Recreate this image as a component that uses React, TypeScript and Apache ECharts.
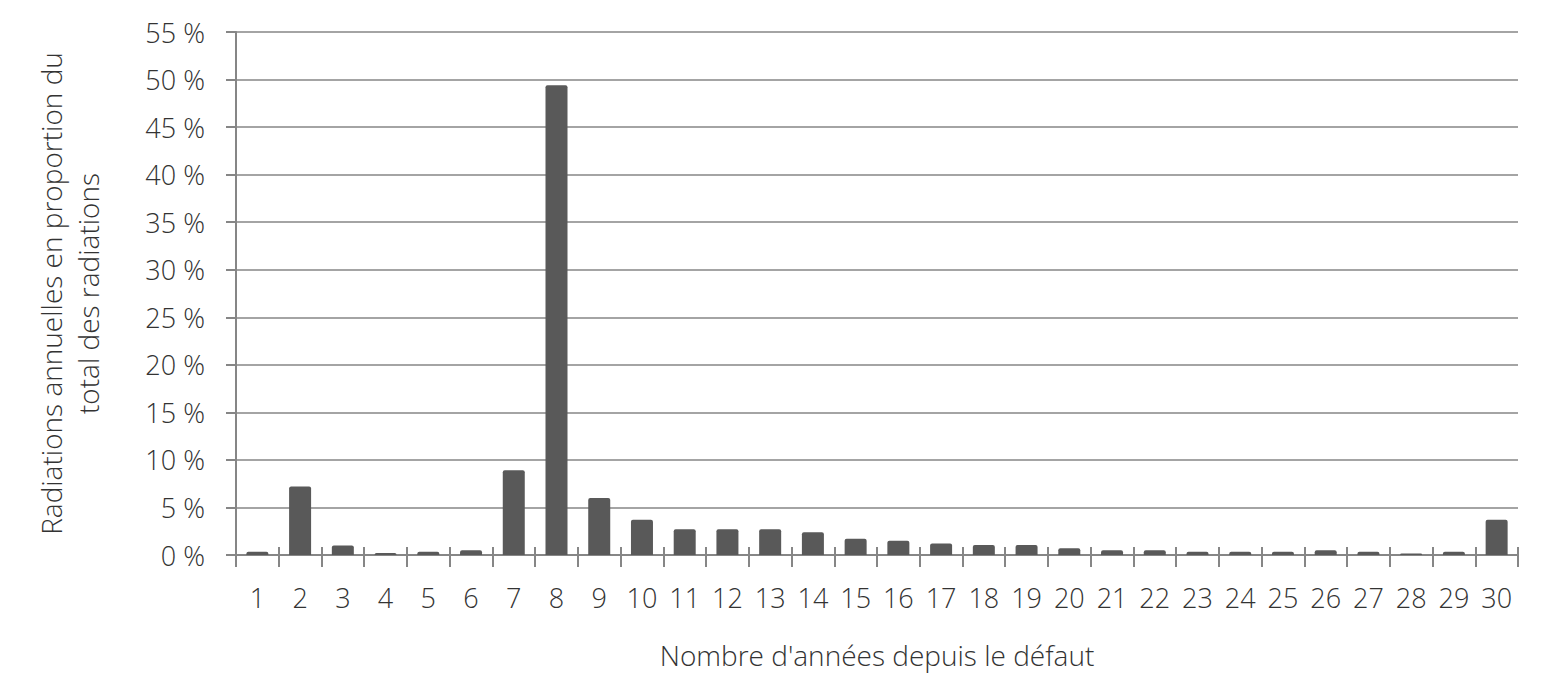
import { useEffect, useRef } from "react";
import * as echarts from "echarts";

const years = Array.from({ length: 30 }, (_, i) => String(i + 1));
const shares = [
  0.35, 7.2, 1.0, 0.2, 0.35, 0.5, 8.9, 49.4, 6.0, 3.7,
  2.7, 2.7, 2.7, 2.4, 1.7, 1.5, 1.2, 1.05, 1.05, 0.7,
  0.5, 0.5, 0.35, 0.35, 0.35, 0.5, 0.35, 0.15, 0.35, 3.7,
];
const xTitle = "Nombre d'années depuis le défaut";
const yTitle = "Radiations annuelles en proportion du\ntotal des radiations";

const font = "'Open Sans', sans-serif";
const textColor = "#333333";
const lineColor = "#868686";

export default function App() {
  const chartRef = useRef<HTMLDivElement>(null);

  useEffect(() => {
    if (!chartRef.current) return;
    document.body.style.margin = "0";

    const chart = echarts.init(chartRef.current, undefined, { renderer: "svg" });
    chart.setOption({
      animation: false,
      textStyle: { fontFamily: font },
      grid: { left: 236, right: 38, top: 32, bottom: 138 },
      xAxis: [
        {
          type: "category",
          data: years,
          name: xTitle,
          nameLocation: "middle",
          nameGap: 86,
          nameTextStyle: { fontSize: 28, color: textColor, fontWeight: 300 },
          axisLine: { lineStyle: { color: lineColor, width: 2 } },
          axisTick: { show: true, length: 12, lineStyle: { color: lineColor, width: 2 } },
          axisLabel: { fontSize: 27, color: textColor, fontWeight: 300, margin: 29 },
        },
        {
          type: "category",
          data: years,
          position: "bottom",
          axisLine: { show: false },
          axisTick: { show: true, inside: true, length: 8, lineStyle: { color: lineColor, width: 2 } },
          axisLabel: { show: false },
        },
      ],
      yAxis: {
        type: "value",
        min: 0,
        max: 55,
        interval: 5,
        name: yTitle,
        nameLocation: "middle",
        nameGap: 130,
        nameRotate: 90,
        nameTextStyle: { fontSize: 28, color: textColor, fontWeight: 300, lineHeight: 37, align: "center" },
        axisLine: { show: true, lineStyle: { color: lineColor, width: 2 } },
        axisTick: { show: true, length: 10, lineStyle: { color: lineColor, width: 2 } },
        axisLabel: { fontSize: 27, color: textColor, fontWeight: 300, margin: 31, formatter: (v: number) => `${v} %` },
        splitLine: { show: true, lineStyle: { color: lineColor, width: 1.5 } },
      },
      series: [
        {
          type: "bar",
          data: shares,
          barWidth: 22,
          itemStyle: { color: "#595959", borderRadius: [2, 2, 0, 0] },
        },
      ],
    });

    return () => {
      chart.dispose();
    };
  }, []);

  return <div ref={chartRef} style={{ width: 1556, height: 693 }} />;
}
